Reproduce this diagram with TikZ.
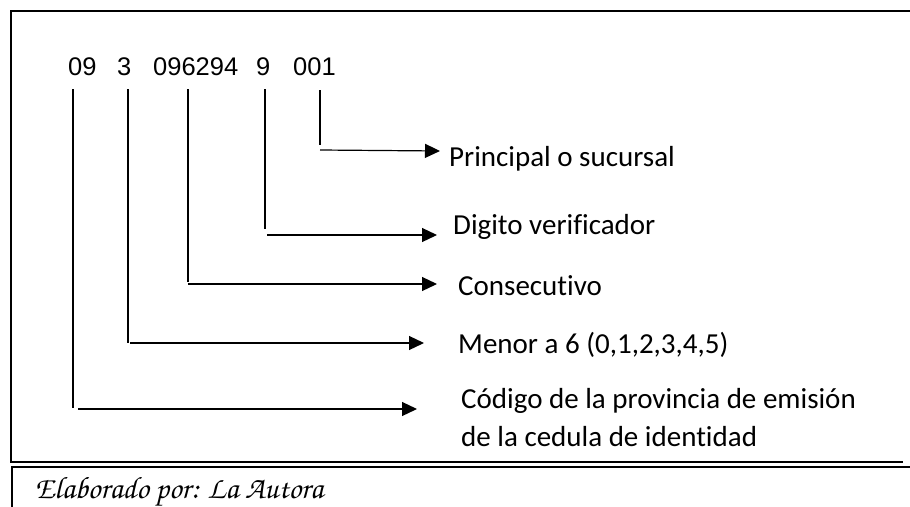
\documentclass[tikz,border=0pt]{standalone}
\usepackage{fontspec}
\setmainfont[Ligatures={NoCommon,NoContextual},RawFeature={-liga;-clig;-dlig;-calt}]{Carlito}
\newfontfamily\arialf{Liberation Sans}
\usetikzlibrary{arrows.meta}
\begin{document}
\begin{tikzpicture}[x=1pt,y=1pt,
  frame/.style={line width=2pt},
  conn/.style={line width=1.2pt},
  arr/.style={conn,-{Triangle[length=15pt,width=14pt]}},
  num/.style={anchor=base west,inner sep=0pt,font=\arialf\fontsize{25.5}{30}\selectfont},
  lbl/.style={anchor=base west,inner sep=0pt,font=\fontsize{29}{38}\selectfont},
  credit/.style={anchor=base west,inner sep=0pt,font=\fontencoding{T1}\fontfamily{pzc}\fontsize{31}{34}\selectfont}]
\useasboundingbox (0,0) rectangle (910,-506);
\clip (0,0) rectangle (910,-506);
% frames
\draw[frame] (920,-11) -- (11,-11) -- (11,-462) -- (903,-462);
\draw[frame] (920,-467) -- (12,-467) -- (12,-520);
% number row
\node[num] (n09) at (68,-75) {09};
\node[num] (n3) at (117,-75) {3};
\node[num] (ncons) at (153,-75) {096294};
\node[num] (n9) at (256,-75) {9};
\node[num] (n001) at (293,-75) {001};
% labels
\node[lbl] (lprin) at (449,-166) {Principal o sucursal};
\node[lbl] (ldig) at (453,-234) {Digito verificador};
\node[lbl] (lcons) at (458,-295) {Consecutivo};
\node[lbl] (lmen) at (458,-353) {Menor a 6 (0,1,2,3,4,5)};
\node[lbl] (lcod) at (461,-408) {Código de la provincia de emisión};
\node[lbl] (lcod2) at (461,-446) {de la cedula de identidad};
\node[credit] (cred) at (35,-498) {\textbf{Elaborado por: La Autora}};
% connector points
\coordinate (a001) at (320,-90);  \coordinate (b001) at (320,-145);
\coordinate (c001) at (320,-150); \coordinate (t001) at (440,-151);
\coordinate (a9) at (265,-89);    \coordinate (b9) at (265,-229);
\coordinate (c9) at (267,-235);   \coordinate (t9) at (437,-235);
\coordinate (acons) at (188,-89); \coordinate (bcons) at (188,-282);
\coordinate (ccons) at (188,-284);\coordinate (tcons) at (437,-284);
\coordinate (a3) at (128,-89);    \coordinate (b3) at (128,-343);
\coordinate (c3) at (130,-343);   \coordinate (t3) at (424,-343);
\coordinate (a09) at (73,-89);    \coordinate (b09) at (73,-408);
\coordinate (c09) at (78,-409);   \coordinate (t09) at (417,-409);
% connectors
\draw[conn] (a001) -- (b001); \draw[arr] (c001) -- (t001);
\draw[conn] (a9) -- (b9);     \draw[arr] (c9) -- (t9);
\draw[conn] (acons) -- (bcons); \draw[arr] (ccons) -- (tcons);
\draw[conn] (a3) -- (b3);     \draw[arr] (c3) -- (t3);
\draw[conn] (a09) -- (b09);   \draw[arr] (c09) -- (t09);
\end{tikzpicture}
\end{document}
